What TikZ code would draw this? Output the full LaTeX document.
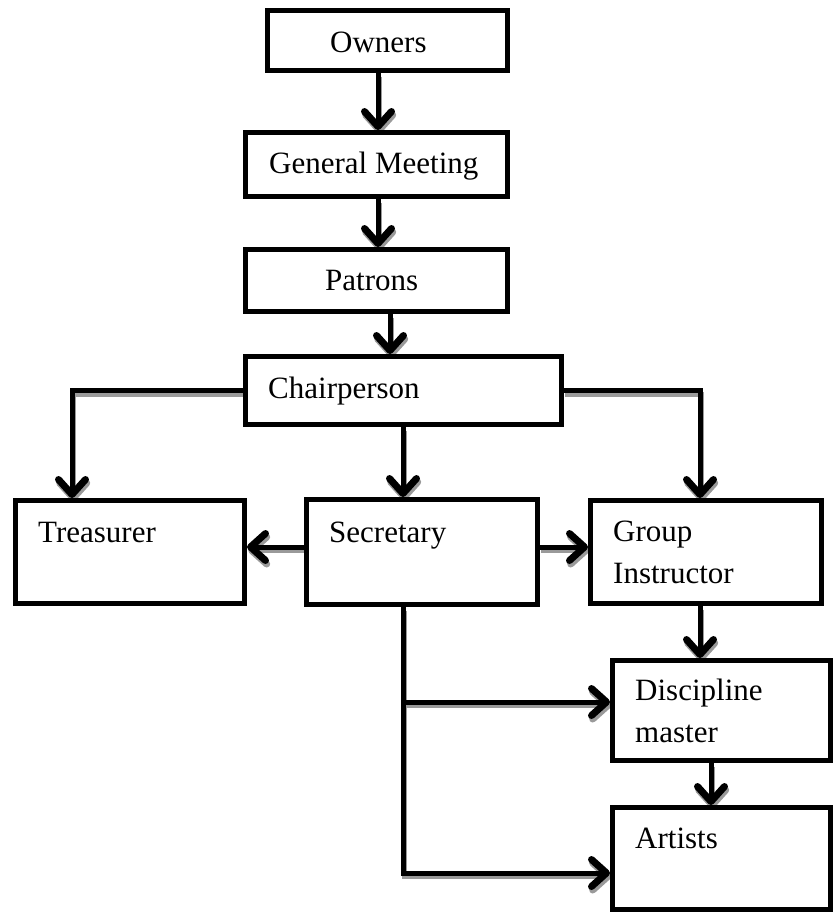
\documentclass[tikz,border=0pt]{standalone}
\usepackage{fontspec}
\setmainfont{Liberation Serif}
\usetikzlibrary{arrows.meta,backgrounds}
\definecolor{shade}{HTML}{9A9A9A}
\tikzset{
  box/.style={draw, rectangle, line width=5pt, fill=white, inner sep=0pt},
  lbl/.style={anchor=base west, inner sep=0pt, font=\fontsize{31}{42}\selectfont},
  link/.style={line width=5pt},
  arr/.style={-{Straight Barb[length=15pt,width=27pt,line width=7pt,round]}}
}
% all connectors of the chart; drawn once as a grey drop shadow and once in black
\newcommand\orgwires{%
  \draw[link,arr] (378,0 |- owners.south) -- (378,0 |- gm.north);
  \draw[link,arr] (378,0 |- gm.south) -- (378,0 |- patrons.north);
  \draw[link,arr] (390,0 |- patrons.south) -- (390,0 |- chair.north);
  \draw[link,arr] (chair.west) -| (72,0 |- treas.north);
  \draw[link,arr] (403,0 |- chair.south) -- (403,0 |- sec.north);
  \draw[link,arr] (chair.east) -| (700,0 |- group.north);
  \draw[link,arr] (sec.west |- 0,547) -- (treas.east |- 0,547);
  \draw[link,arr] (sec.east |- 0,547) -- (group.west |- 0,547);
  \draw[link,arr] (700,0 |- group.south) -- (700,0 |- disc.north);
  \draw[link,arr] (711,0 |- disc.south) -- (711,0 |- art.north);
  \draw[link,arr] (403,0 |- sec.south) |- (art.west |- 0,873);
  \draw[link,arr] (branch) -- (disc.west |- 0,702);
}
\begin{document}
\begin{tikzpicture}[x=1pt,y=-1pt]
  \useasboundingbox (0,0) rectangle (835,914);

  % boxes
  \node[box, minimum width=240pt, minimum height=60pt]  (owners)  at (387.5,40.5) {};
  \node[box, minimum width=262pt, minimum height=64pt]  (gm)      at (376.5,164.5) {};
  \node[box, minimum width=262pt, minimum height=62pt]  (patrons) at (376.5,280.5) {};
  \node[box, minimum width=316pt, minimum height=68pt]  (chair)   at (403.5,390.5) {};
  \node[box, minimum width=229pt, minimum height=103pt] (treas)   at (130,552) {};
  \node[box, minimum width=231pt, minimum height=105pt] (sec)     at (422,552) {};
  \node[box, minimum width=231pt, minimum height=103pt] (group)   at (706,552) {};
  \node[box, minimum width=218pt, minimum height=100pt] (disc)    at (721.5,710.5) {};
  \node[box, minimum width=218pt, minimum height=102pt] (art)     at (721.5,858.5) {};
  \coordinate (branch) at (403,702);

  % labels
  \node[lbl] (owners-t)  at (330,52)  {Owners};
  \node[lbl] (gm-t)      at (269,173) {General Meeting};
  \node[lbl] (patrons-t) at (325,290) {Patrons};
  \node[lbl] (chair-t)   at (268,398) {Chairperson};
  \node[lbl] (treas-t)   at (38,542)  {Treasurer};
  \node[lbl] (sec-t)     at (329,542) {Secretary};
  \node[lbl] (group-t)   at (613,541) {\begin{tabular}[t]{@{}l@{}}Group\\Instructor\end{tabular}};
  \node[lbl] (disc-t)    at (635,700) {\begin{tabular}[t]{@{}l@{}}Discipline\\master\end{tabular}};
  \node[lbl] (art-t)     at (635,848) {Artists};

  % drop shadow of the connectors
  \begin{scope}[on background layer]
    \begin{scope}[transform canvas={shift={(1.2pt,-3.5pt)}}, color=shade]
      \orgwires
    \end{scope}
  \end{scope}

  % connectors
  \orgwires
\end{tikzpicture}
\end{document}
